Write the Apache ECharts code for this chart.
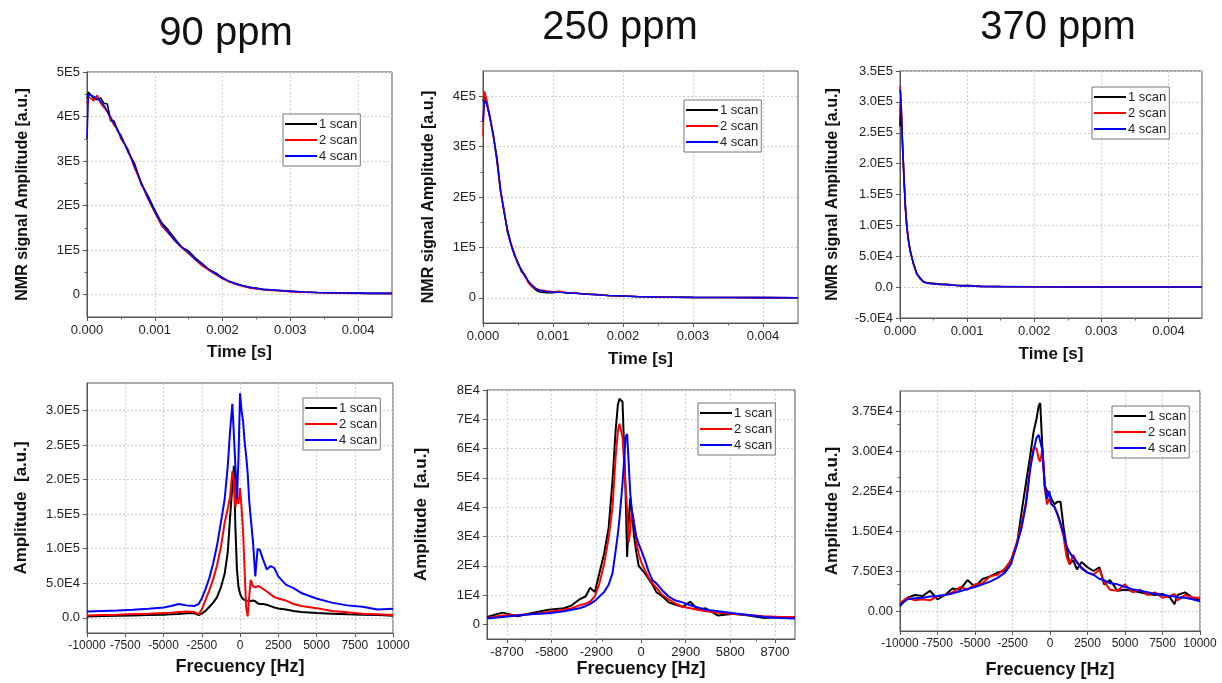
<!DOCTYPE html>
<html>
<head>
<meta charset="utf-8">
<script src="https://cdn.jsdelivr.net/npm/echarts@6/dist/echarts.min.js"></script>
<style>html,body{margin:0;padding:0;background:#fff;}#c{width:1222px;height:683px;}</style>
</head>
<body>
<div id="c"></div>
<script>
// ---------------- DATA ----------------
const SERIES_NAMES = ['1 scan', '2 scan', '4 scan'];
const PANEL_TITLES = ['90 ppm', '250 ppm', '370 ppm'];

// 90 ppm FID
const T90 = [0, 0.00002, 0.0001, 0.00015, 0.0002, 0.00025, 0.0003, 0.00035, 0.0004, 0.00045, 0.0005, 0.0006, 0.0007, 0.0008, 0.0009, 0.001, 0.0011, 0.0012, 0.0013, 0.0014, 0.0015, 0.0016, 0.0017, 0.0018, 0.0019, 0.002, 0.0021, 0.0022, 0.0023, 0.0024, 0.0025, 0.0026, 0.0028, 0.003, 0.0032, 0.0034, 0.0036, 0.0038, 0.004, 0.0042, 0.0045];
const FID90_1 = [4.4e5, 4.55e5, 4.4e5, 4.38e5, 4.42e5, 4.3e5, 4.28e5, 3.9e5, 3.9e5, 3.68e5, 3.58e5, 3.22e5, 2.95e5, 2.48e5, 2.22e5, 1.9e5, 1.62e5, 1.45e5, 1.25e5, 1.06e5, 0.98e5, 0.82e5, 0.7e5, 0.56e5, 0.49e5, 0.38e5, 0.29e5, 0.25e5, 0.2e5, 0.16e5, 0.15e5, 0.12e5, 0.1e5, 0.08e5, 0.06e5, 0.05e5, 0.045e5, 0.04e5, 0.035e5, 0.03e5, 0.03e5];
const FID90_2 = [4.3e5, 4.45e5, 4.35e5, 4.48e5, 4.3e5, 4.2e5, 4.1e5, 3.95e5, 3.8e5, 3.72e5, 3.5e5, 3.28e5, 2.85e5, 2.5e5, 2.15e5, 1.85e5, 1.55e5, 1.38e5, 1.2e5, 1.05e5, 0.92e5, 0.78e5, 0.65e5, 0.55e5, 0.45e5, 0.36e5, 0.29e5, 0.23e5, 0.19e5, 0.15e5, 0.13e5, 0.11e5, 0.09e5, 0.07e5, 0.055e5, 0.045e5, 0.04e5, 0.035e5, 0.03e5, 0.028e5, 0.025e5];
const FID90_4 = [3.5e5, 4.5e5, 4.45e5, 4.4e5, 4.35e5, 4.25e5, 4.12e5, 3.98e5, 3.85e5, 3.7e5, 3.55e5, 3.25e5, 2.9e5, 2.52e5, 2.18e5, 1.87e5, 1.6e5, 1.4e5, 1.22e5, 1.07e5, 0.95e5, 0.8e5, 0.68e5, 0.57e5, 0.47e5, 0.37e5, 0.3e5, 0.24e5, 0.2e5, 0.17e5, 0.14e5, 0.12e5, 0.1e5, 0.075e5, 0.06e5, 0.05e5, 0.045e5, 0.04e5, 0.035e5, 0.03e5, 0.03e5];

// 250 ppm FID
const T250 = [0, 0.00002, 0.00005, 0.0001, 0.00015, 0.0002, 0.00025, 0.0003, 0.00035, 0.0004, 0.00045, 0.0005, 0.00055, 0.0006, 0.00065, 0.0007, 0.00075, 0.0008, 0.0009, 0.001, 0.0011, 0.0012, 0.0013, 0.0014, 0.0015, 0.0016, 0.0018, 0.002, 0.0022, 0.0025, 0.003, 0.0035, 0.004, 0.0045];
const FID250_1 = [3.9e5, 4.0e5, 3.9e5, 3.55e5, 3.22e5, 2.7e5, 2.12e5, 1.75e5, 1.3e5, 1.06e5, 0.84e5, 0.7e5, 0.52e5, 0.45e5, 0.3e5, 0.22e5, 0.16e5, 0.12e5, 0.1e5, 0.1e5, 0.12e5, 0.09e5, 0.1e5, 0.08e5, 0.07e5, 0.07e5, 0.04e5, 0.035e5, 0.02e5, 0.015e5, 0.008e5, 0.005e5, 0.003e5, 0.002e5];
const FID250_2 = [3.2e5, 4.1e5, 3.95e5, 3.6e5, 3.18e5, 2.78e5, 2.12e5, 1.72e5, 1.33e5, 1.08e5, 0.88e5, 0.66e5, 0.56e5, 0.42e5, 0.3e5, 0.22e5, 0.18e5, 0.16e5, 0.14e5, 0.12e5, 0.13e5, 0.1e5, 0.1e5, 0.08e5, 0.07e5, 0.06e5, 0.045e5, 0.035e5, 0.025e5, 0.015e5, 0.008e5, 0.005e5, 0.003e5, 0.002e5];
const FID250_4 = [3.5e5, 3.92e5, 3.85e5, 3.58e5, 3.2e5, 2.75e5, 2.15e5, 1.7e5, 1.35e5, 1.05e5, 0.85e5, 0.68e5, 0.55e5, 0.43e5, 0.33e5, 0.25e5, 0.19e5, 0.15e5, 0.12e5, 0.11e5, 0.11e5, 0.1e5, 0.09e5, 0.08e5, 0.07e5, 0.06e5, 0.045e5, 0.035e5, 0.025e5, 0.015e5, 0.008e5, 0.005e5, 0.003e5, 0.002e5];

// 370 ppm FID
const T370 = [0, 0.00001, 0.00002, 0.00003, 0.00004, 0.00006, 0.00008, 0.0001, 0.00012, 0.00015, 0.0002, 0.00025, 0.0003, 0.00035, 0.0004, 0.0005, 0.0006, 0.0007, 0.0008, 0.0009, 0.001, 0.0012, 0.0015, 0.002, 0.0025, 0.003, 0.0035, 0.004, 0.0045];
const FID370_1 = [2.6e5, 3.05e5, 2.8e5, 2.52e5, 2.28e5, 1.78e5, 1.28e5, 1.0e5, 0.82e5, 0.58e5, 0.39e5, 0.21e5, 0.15e5, 0.08e5, 0.07e5, 0.06e5, 0.05e5, 0.045e5, 0.035e5, 0.02e5, 0.03e5, 0.012e5, 0.01e5, 0.005e5, 0.003e5, 0.002e5, 0.002e5, 0.001e5, 0.001e5];
const FID370_2 = [3.25e5, 3.15e5, 2.9e5, 2.5e5, 2.2e5, 1.72e5, 1.32e5, 1.02e5, 0.78e5, 0.62e5, 0.37e5, 0.22e5, 0.13e5, 0.09e5, 0.07e5, 0.05e5, 0.045e5, 0.04e5, 0.03e5, 0.025e5, 0.02e5, 0.012e5, 0.008e5, 0.005e5, 0.003e5, 0.002e5, 0.002e5, 0.001e5, 0.001e5];
const FID370_4 = [3.2e5, 3.1e5, 2.85e5, 2.55e5, 2.25e5, 1.75e5, 1.3e5, 1.0e5, 0.8e5, 0.6e5, 0.38e5, 0.22e5, 0.14e5, 0.09e5, 0.065e5, 0.05e5, 0.045e5, 0.04e5, 0.03e5, 0.025e5, 0.02e5, 0.012e5, 0.008e5, 0.005e5, 0.003e5, 0.002e5, 0.002e5, 0.001e5, 0.001e5];

// 90 ppm spectrum
const F90 = [-10000, -9000, -8000, -7000, -6000, -5000, -4500, -4000, -3500, -3000, -2700, -2500, -2250, -2000, -1750, -1500, -1250, -1000, -800, -650, -500, -400, -300, -200, -100, 0, 100, 200, 300, 400, 500, 600, 700, 850, 1000, 1150, 1300, 1500, 1750, 2000, 2250, 2500, 3000, 3500, 4000, 5000, 6000, 7000, 8000, 9000, 10000];
const SP90_1 = [0.2e4, 0.25e4, 0.3e4, 0.35e4, 0.4e4, 0.45e4, 0.5e4, 0.55e4, 0.65e4, 0.7e4, 0.4e4, 0.6e4, 1.0e4, 1.6e4, 2.2e4, 3.0e4, 4.4e4, 6.4e4, 9.5e4, 1.45e5, 1.9e5, 2.2e5, 1.3e5, 7.0e4, 4.5e4, 3.5e4, 3.0e4, 2.7e4, 2.6e4, 2.5e4, 2.4e4, 2.4e4, 2.4e4, 2.5e4, 2.4e4, 2.1e4, 2.0e4, 2.0e4, 1.9e4, 1.7e4, 1.5e4, 1.35e4, 1.2e4, 1.0e4, 0.85e4, 0.7e4, 0.6e4, 0.5e4, 0.45e4, 0.4e4, 0.3e4];
const SP90_2 = [0.35e4, 0.4e4, 0.45e4, 0.55e4, 0.6e4, 0.7e4, 0.75e4, 0.85e4, 0.9e4, 0.85e4, 0.5e4, 1.2e4, 2.6e4, 4.0e4, 5.6e4, 7.6e4, 1.02e5, 1.38e5, 1.58e5, 1.75e5, 2.12e5, 2.0e5, 1.6e5, 1.75e5, 1.65e5, 1.88e5, 1.6e5, 1.25e5, 7.0e4, 1.5e4, 0.2e4, 3.0e4, 5.5e4, 4.6e4, 4.4e4, 4.6e4, 4.5e4, 4.2e4, 3.8e4, 3.4e4, 3.0e4, 2.8e4, 2.5e4, 2.0e4, 1.7e4, 1.4e4, 1.0e4, 0.8e4, 0.6e4, 0.5e4, 0.4e4];
const SP90_4 = [0.9e4, 1.0e4, 1.05e4, 1.15e4, 1.3e4, 1.5e4, 1.7e4, 2.0e4, 1.8e4, 1.7e4, 2.0e4, 2.8e4, 4.2e4, 5.8e4, 7.9e4, 1.05e5, 1.38e5, 1.72e5, 2.2e5, 2.7e5, 3.1e5, 3.12e5, 2.2e5, 1.72e5, 2.3e5, 3.25e5, 3.0e5, 2.85e5, 2.55e5, 2.35e5, 2.1e5, 1.7e5, 1.45e5, 1.1e5, 6.0e4, 1.0e5, 9.8e4, 8.5e4, 7.0e4, 7.5e4, 7.2e4, 6.0e4, 4.8e4, 4.3e4, 3.6e4, 2.8e4, 2.2e4, 1.8e4, 1.6e4, 1.2e4, 1.3e4];

// 250 ppm spectrum
const F250 = [-10000, -9000, -8000, -7000, -6000, -5000, -4500, -4000, -3600, -3300, -3000, -2700, -2400, -2100, -1850, -1650, -1500, -1400, -1200, -1000, -900, -800, -700, -600, -450, -300, -150, 0, 250, 500, 750, 1000, 1400, 1800, 2200, 2700, 3200, 3700, 4200, 5000, 6000, 7000, 8000, 9000, 10000];
const SP250_1 = [0.25e4, 0.4e4, 0.28e4, 0.4e4, 0.5e4, 0.55e4, 0.65e4, 0.85e4, 0.95e4, 1.25e4, 1.1e4, 1.75e4, 2.4e4, 3.3e4, 4.9e4, 6.6e4, 7.5e4, 7.7e4, 7.6e4, 4.5e4, 2.3e4, 3.5e4, 4.3e4, 3.9e4, 3.0e4, 2.45e4, 2.0e4, 1.9e4, 1.75e4, 1.55e4, 1.35e4, 1.1e4, 0.95e4, 0.75e4, 0.68e4, 0.6e4, 0.77e4, 0.5e4, 0.55e4, 0.3e4, 0.36e4, 0.3e4, 0.22e4, 0.25e4, 0.22e4];
const SP250_2 = [0.22e4, 0.3e4, 0.32e4, 0.35e4, 0.42e4, 0.5e4, 0.55e4, 0.65e4, 0.7e4, 0.78e4, 0.95e4, 1.4e4, 2.05e4, 2.95e4, 4.0e4, 5.7e4, 6.6e4, 6.85e4, 6.4e4, 4.7e4, 3.9e4, 2.8e4, 3.2e4, 3.9e4, 3.5e4, 2.8e4, 2.4e4, 2.15e4, 1.85e4, 1.6e4, 1.4e4, 1.25e4, 1.0e4, 0.85e4, 0.72e4, 0.6e4, 0.55e4, 0.5e4, 0.45e4, 0.4e4, 0.35e4, 0.32e4, 0.28e4, 0.25e4, 0.25e4];
const SP250_4 = [0.2e4, 0.25e4, 0.3e4, 0.35e4, 0.38e4, 0.45e4, 0.5e4, 0.55e4, 0.62e4, 0.7e4, 0.8e4, 0.95e4, 1.1e4, 1.35e4, 1.75e4, 2.5e4, 3.1e4, 3.6e4, 4.8e4, 6.4e4, 6.5e4, 6.45e4, 4.5e4, 3.9e4, 3.4e4, 3.0e4, 2.75e4, 2.55e4, 2.2e4, 1.8e4, 1.5e4, 1.4e4, 1.15e4, 0.95e4, 0.82e4, 0.75e4, 0.65e4, 0.58e4, 0.5e4, 0.45e4, 0.38e4, 0.32e4, 0.25e4, 0.22e4, 0.2e4];

// 370 ppm spectrum
const F370 = [-10000, -9500, -9000, -8500, -8000, -7500, -7000, -6500, -6000, -5500, -5000, -4500, -4000, -3500, -3000, -2600, -2200, -1900, -1600, -1300, -1100, -900, -750, -650, -500, -350, -200, -50, 100, 300, 500, 700, 900, 1100, 1300, 1550, 1800, 2100, 2500, 2900, 3300, 3600, 4000, 4500, 5000, 5500, 6000, 6500, 7000, 7500, 8000, 8300, 8500, 9000, 9500, 10000];
const SP370_1 = [0.09e4, 0.25e4, 0.3e4, 0.28e4, 0.38e4, 0.22e4, 0.3e4, 0.42e4, 0.4e4, 0.58e4, 0.45e4, 0.6e4, 0.65e4, 0.72e4, 0.75e4, 0.95e4, 1.25e4, 1.85e4, 2.4e4, 2.95e4, 3.35e4, 3.6e4, 3.85e4, 3.9e4, 3.0e4, 2.35e4, 2.25e4, 2.2e4, 2.1e4, 2.0e4, 2.05e4, 2.05e4, 1.58e4, 1.2e4, 0.88e4, 0.95e4, 0.78e4, 0.92e4, 0.82e4, 0.75e4, 0.82e4, 0.5e4, 0.58e4, 0.38e4, 0.4e4, 0.38e4, 0.35e4, 0.32e4, 0.3e4, 0.32e4, 0.25e4, 0.13e4, 0.3e4, 0.35e4, 0.25e4, 0.2e4];
const SP370_2 = [0.15e4, 0.25e4, 0.2e4, 0.22e4, 0.2e4, 0.28e4, 0.3e4, 0.35e4, 0.45e4, 0.4e4, 0.5e4, 0.52e4, 0.65e4, 0.68e4, 0.8e4, 0.95e4, 1.3e4, 1.62e4, 2.05e4, 2.75e4, 3.05e4, 3.05e4, 2.85e4, 2.8e4, 3.05e4, 2.3e4, 2.0e4, 2.1e4, 2.0e4, 1.95e4, 1.8e4, 1.62e4, 1.4e4, 1.02e4, 0.88e4, 1.05e4, 0.9e4, 0.82e4, 0.72e4, 0.68e4, 0.78e4, 0.55e4, 0.4e4, 0.38e4, 0.5e4, 0.35e4, 0.4e4, 0.3e4, 0.35e4, 0.25e4, 0.28e4, 0.32e4, 0.2e4, 0.3e4, 0.25e4, 0.25e4];
const SP370_4 = [0.12e4, 0.22e4, 0.24e4, 0.25e4, 0.27e4, 0.28e4, 0.3e4, 0.33e4, 0.37e4, 0.41e4, 0.45e4, 0.5e4, 0.55e4, 0.62e4, 0.72e4, 0.88e4, 1.25e4, 1.55e4, 2.0e4, 2.7e4, 3.0e4, 3.25e4, 3.3e4, 3.3e4, 3.0e4, 2.35e4, 2.1e4, 2.25e4, 2.0e4, 1.95e4, 1.82e4, 1.65e4, 1.45e4, 1.22e4, 1.1e4, 1.0e4, 0.92e4, 0.8e4, 0.72e4, 0.68e4, 0.6e4, 0.58e4, 0.52e4, 0.5e4, 0.45e4, 0.41e4, 0.38e4, 0.35e4, 0.32e4, 0.3e4, 0.28e4, 0.27e4, 0.26e4, 0.25e4, 0.22e4, 0.18e4];

// tick values and labels
const TIME_TICKS = [0, 0.001, 0.002, 0.003, 0.004];
const TIME_LABELS = ['0.000', '0.001', '0.002', '0.003', '0.004'];
const Y90_TICKS = [0, 1e5, 2e5, 3e5, 4e5, 5e5];
const Y90_LABELS = ['0', '1E5', '2E5', '3E5', '4E5', '5E5'];
const Y250_TICKS = [0, 1e5, 2e5, 3e5, 4e5];
const Y250_LABELS = ['0', '1E5', '2E5', '3E5', '4E5'];
const Y370_TICKS = [-5e4, 0, 5e4, 1e5, 1.5e5, 2e5, 2.5e5, 3e5, 3.5e5];
const Y370_LABELS = ['-5.0E4', '0.0', '5.0E4', '1.0E5', '1.5E5', '2.0E5', '2.5E5', '3.0E5', '3.5E5'];
const FREQ_TICKS = [-10000, -7500, -5000, -2500, 0, 2500, 5000, 7500, 10000];
const FREQ_LABELS = ['-10000', '-7500', '-5000', '-2500', '0', '2500', '5000', '7500', '10000'];
const FREQ250_TICKS = [-8700, -5800, -2900, 0, 2900, 5800, 8700];
const FREQ250_LABELS = ['-8700', '-5800', '-2900', '0', '2900', '5800', '8700'];
const S90_TICKS = [0, 5e4, 1e5, 1.5e5, 2e5, 2.5e5, 3e5];
const S90_LABELS = ['0.0', '5.0E4', '1.0E5', '1.5E5', '2.0E5', '2.5E5', '3.0E5'];
const S250_TICKS = [0, 1e4, 2e4, 3e4, 4e4, 5e4, 6e4, 7e4, 8e4];
const S250_LABELS = ['0', '1E4', '2E4', '3E4', '4E4', '5E4', '6E4', '7E4', '8E4'];
const S370_TICKS = [0, 7500, 15000, 22500, 30000, 37500];
const S370_LABELS = ['0.00', '7.50E3', '1.50E4', '2.25E4', '3.00E4', '3.75E4'];

// ---------------- CHART ----------------
const FONT = "'Liberation Sans', Arial, Helvetica, sans-serif";
const COLORS = ['#000000', '#ff0000', '#0000ff'];
const zip = (xs, ys) => xs.map((x, i) => [x, ys[i]]);
const lab = (ticks, labels) => (v) => { const i = ticks.findIndex(t => Math.abs(t - v) < 1e-9 * Math.max(1, Math.abs(t))); return i >= 0 ? labels[i] : ''; };

const panels = [
  { grid: {left: 87, top: 72, width: 305, height: 245}, x: [T90], ys: [FID90_1, FID90_2, FID90_4],
    xr: [0, 0.0045], xt: TIME_TICKS, xl: TIME_LABELS, xName: 'Time [s]', xGap: 27,
    yr: [-5e4, 5e5], yt: Y90_TICKS, yl: Y90_LABELS, yName: 'NMR signal Amplitude [a.u.]', yGap: 56,
    leg: {left: 283, top: 114}, lw: 1.6 },
  { grid: {left: 483, top: 71, width: 315, height: 252}, x: [T250], ys: [FID250_1, FID250_2, FID250_4],
    xr: [0, 0.0045], xt: TIME_TICKS, xl: TIME_LABELS, xName: 'Time [s]', xGap: 28,
    yr: [-5e4, 4.5e5], yt: Y250_TICKS, yl: Y250_LABELS, yName: 'NMR signal Amplitude [a.u.]', yGap: 46,
    leg: {left: 684, top: 100}, lw: 1.6 },
  { grid: {left: 900, top: 71, width: 302, height: 247}, x: [T370], ys: [FID370_1, FID370_2, FID370_4],
    xr: [0, 0.0045], xt: TIME_TICKS, xl: TIME_LABELS, xName: 'Time [s]', xGap: 28,
    yr: [-5e4, 3.5e5], yt: Y370_TICKS, yl: Y370_LABELS, yName: 'NMR signal Amplitude [a.u.]', yGap: 59,
    leg: {left: 1092, top: 87}, lw: 1.6 },
  { grid: {left: 87, top: 383, width: 306, height: 250}, x: [F90], ys: [SP90_1, SP90_2, SP90_4],
    xr: [-10000, 10000], xt: FREQ_TICKS, xl: FREQ_LABELS, xName: 'Frecuency [Hz]', xGap: 25,
    yr: [-2.2e4, 3.4e5], yt: S90_TICKS, yl: S90_LABELS, yName: 'Amplitude  [a.u.]', yGap: 57,
    leg: {left: 303, top: 398}, lw: 2 },
  { grid: {left: 487, top: 390, width: 308, height: 249}, x: [F250], ys: [SP250_1, SP250_2, SP250_4],
    xr: [-10000, 10000], xt: FREQ250_TICKS, xl: FREQ250_LABELS, xName: 'Frecuency [Hz]', xGap: 21,
    yr: [-5000, 80000], yt: S250_TICKS, yl: S250_LABELS, yName: 'Amplitude  [a.u.]', yGap: 57,
    leg: {left: 698, top: 403}, lw: 2 },
  { grid: {left: 900, top: 391, width: 300, height: 240}, x: [F370], ys: [SP370_1, SP370_2, SP370_4],
    xr: [-10000, 10000], xt: FREQ_TICKS, xl: FREQ_LABELS, xName: 'Frecuency [Hz]', xGap: 30,
    yr: [-3750, 41250], yt: S370_TICKS, yl: S370_LABELS, yName: 'Amplitude [a.u.]', yGap: 59,
    leg: {left: 1112, top: 406}, lw: 2 }
];

const grids = [], xAxes = [], yAxes = [], series = [], legends = [];
const splitStyle = {show: true, lineStyle: {color: '#cfcfcf', type: [2, 2], width: 1}};
const minorTick = {show: true, splitNumber: 2, length: 2.5, lineStyle: {color: '#666'}};
panels.forEach((p, i) => {
  grids.push(Object.assign({show: true, borderColor: '#555', borderWidth: 1, backgroundColor: '#fff'}, p.grid));
  xAxes.push({
    type: 'value', gridIndex: i, min: p.xr[0], max: p.xr[1],
    axisLine: {show: true, onZero: false, lineStyle: {color: '#555', width: 1}},
    axisTick: {show: true, customValues: p.xt, length: 4, lineStyle: {color: '#555'}},
    minorTick: minorTick,
    axisLabel: {customValues: p.xt, formatter: lab(p.xt, p.xl), color: '#222', fontSize: i >= 3 && i !== 4 ? 12 : 13, fontFamily: FONT, margin: 7},
    splitLine: splitStyle,
    name: p.xName, nameLocation: 'middle', nameGap: p.xGap,
    nameTextStyle: {fontFamily: FONT, fontWeight: 'bold', fontSize: i >= 3 ? 18 : 17, color: '#111'}
  });
  yAxes.push({
    type: 'value', gridIndex: i, min: p.yr[0], max: p.yr[1],
    axisLine: {show: true, onZero: false, lineStyle: {color: '#555', width: 1}},
    axisTick: {show: true, customValues: p.yt, length: 4, lineStyle: {color: '#555'}},
    minorTick: minorTick,
    axisLabel: {customValues: p.yt, formatter: lab(p.yt, p.yl), color: '#222', fontSize: 13, fontFamily: FONT, margin: 7},
    splitLine: splitStyle,
    name: p.yName, nameLocation: 'middle', nameGap: p.yGap, nameRotate: 90,
    nameTextStyle: {fontFamily: FONT, fontWeight: 'bold', fontSize: i >= 3 ? 17 : 16, color: '#111'}
  });
  p.ys.forEach((ys, k) => {
    series.push({
      type: 'line', name: SERIES_NAMES[k], xAxisIndex: i, yAxisIndex: i,
      data: zip(p.x[0], ys), symbol: 'none', showSymbol: false, smooth: false,
      lineStyle: {color: COLORS[k], width: p.lw}, itemStyle: {color: COLORS[k]},
      z: 2 + k, animation: false
    });
  });
  legends.push({
    left: p.leg.left, top: p.leg.top, orient: 'vertical', data: SERIES_NAMES,
    icon: 'rect', itemWidth: 32, itemHeight: 2, itemGap: 2, selectedMode: false,
    borderColor: '#777', borderWidth: 1, backgroundColor: '#fff', padding: [3, 3, 3, 2],
    textStyle: {fontFamily: FONT, fontSize: 13, color: '#222', padding: [0, 0, 0, -3], lineHeight: 14}
  });
});

const titleX = [226, 620, 1058], titleY = [34, 28, 28];
const graphics = PANEL_TITLES.map((t, i) => ({
  type: 'text', x: titleX[i], y: titleY[i],
  style: {text: t, fontSize: 40, fontFamily: FONT, fill: '#111', align: 'center', verticalAlign: 'middle'}
}));

const chart = echarts.init(document.getElementById('c'), null, {renderer: 'canvas'});
chart.setOption({
  animation: false,
  backgroundColor: '#fff',
  grid: grids, xAxis: xAxes, yAxis: yAxes, series: series, legend: legends, graphic: graphics
});
</script>
</body>
</html>
